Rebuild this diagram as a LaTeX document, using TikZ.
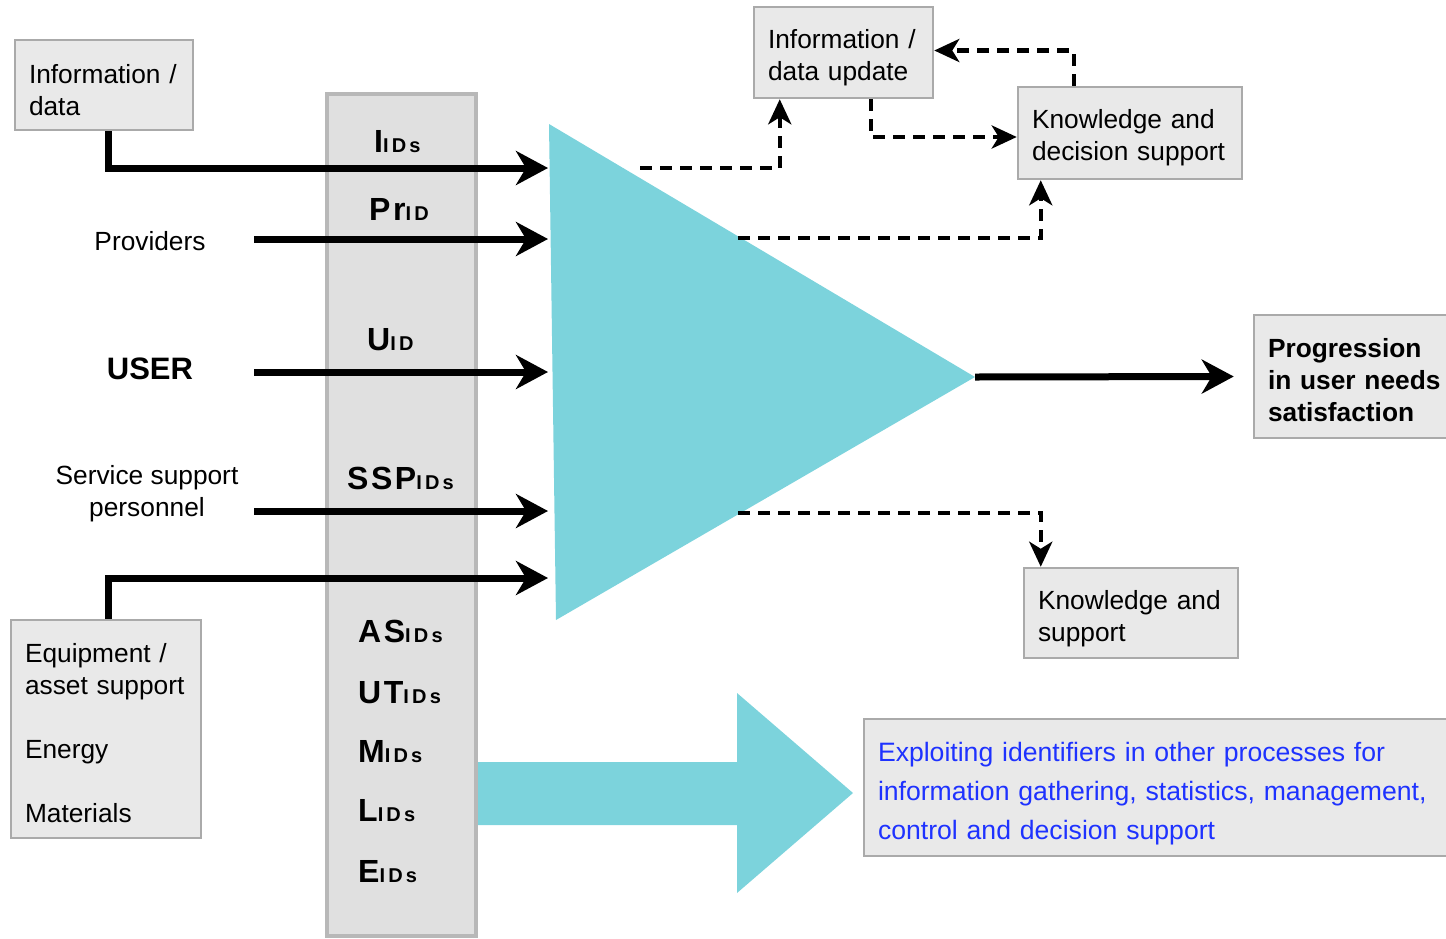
\documentclass[tikz,border=0pt]{standalone}
\usepackage{fontspec}
\setmainfont{Liberation Sans}
\newfontfamily\idfont[LetterSpace=8]{Liberation Sans}
\newfontfamily\subfont[LetterSpace=16]{Liberation Sans}
\usetikzlibrary{arrows.meta,calc}
\definecolor{boxfill}{RGB}{233,233,233}
\definecolor{boxline}{RGB}{170,170,170}
\definecolor{barfill}{RGB}{224,224,224}
\definecolor{barline}{RGB}{184,184,184}
\definecolor{tealc}{RGB}{124,211,220}
\definecolor{bluetxt}{RGB}{30,50,255}
\newcommand\idm[1]{{\idfont\bfseries\fontsize{32}{32}\selectfont #1}}
\newcommand\ids[1]{{\subfont\bfseries\fontsize{20}{20}\selectfont #1}}
\newcommand\dn[1]{\rule{0pt}{#1}}
\begin{document}
\begin{tikzpicture}[x=1pt,y=-1pt,
  box/.style={draw=boxline, fill=boxfill, line width=2.5pt, inner sep=0pt, align=left, font=\fontsize{26.3}{32}\selectfont},
  lbl/.style={inner sep=0pt, font=\fontsize{26.3}{32}\selectfont, align=center},
  idl/.style={inner sep=0pt, anchor=base west},
  sarrow/.style={line width=7pt, -{Stealth[length=32pt,width=34pt,inset=10pt]}},
  darrow/.style={line width=4.5pt, dash pattern=on 12pt off 8pt, -{Stealth[length=25pt,width=23pt,inset=7pt]}}]
\useasboundingbox (0,0) rectangle (1446,938);

% vertical identifier bar
\node[draw=barline, fill=barfill, line width=4pt, minimum width=149pt, minimum height=842pt, inner sep=0pt] (bar) at (401.5,515) {};

% process triangle
\coordinate (t1) at (549,124);
\coordinate (apex) at (975,377);
\coordinate (t3) at (556,620);
\fill[tealc] (t1) -- (apex) -- (t3) -- cycle;

% block arrow
\fill[tealc] (478,762) -- (737,762) -- (737,693) -- (853,793) -- (737,893) -- (737,825) -- (478,825) -- cycle;

% boxes
\node[box, minimum width=178pt, minimum height=90pt, text width=150pt] (info) at (104,85) {\dn{29pt}Information /\\data};
\node[box, minimum width=179pt, minimum height=91pt, text width=151pt] (upd) at (843.5,52.5) {\dn{29pt}Information /\\data update};
\node[box, minimum width=224pt, minimum height=92pt, text width=196pt] (kds) at (1130,133) {\dn{28pt}Knowledge and\\decision support};
\node[box, minimum width=214pt, minimum height=90pt, text width=186pt] (ks) at (1131,613) {\dn{30pt}Knowledge and\\support};
\node[box, minimum width=206pt, minimum height=123pt, text width=178pt, font=\bfseries\fontsize{26.3}{32}\selectfont] (prog) at (1357,376.5) {\dn{27pt}Progression\\in user needs\\satisfaction};
\node[box, minimum width=596pt, minimum height=137pt, text width=568pt, text=bluetxt, font=\fontsize{26.6}{39}\selectfont] (expl) at (1162,787.5) {\dn{32pt}Exploiting identifiers in other processes for\\information gathering, statistics, management,\\control and decision support};
\node[box, minimum width=190pt, minimum height=218pt, text width=162pt] (eq) at (106,729) {\dn{27pt}Equipment /\\asset support\\[32pt]Energy\\[32pt]Materials};

% left labels
\node[lbl] (prov) at (150,241) {Providers};
\node[lbl, font=\bfseries\fontsize{31}{36}\selectfont] (user) at (150,369) {USER};
\node[lbl] (ssp) at (147,494) {Service support\\personnel};

% identifier labels
\node[idl] (lI) at (374,152) {\idm{I}\ids{IDs}};
\node[idl] (lPr) at (369,220) {\idm{Pr}\ids{ID}};
\node[idl] (lU) at (367,350) {\idm{U}\ids{ID}};
\node[idl] (lSSP) at (347,489) {\idm{SSP}\ids{IDs}};
\node[idl] (lAS) at (358,642) {\idm{AS}\ids{IDs}};
\node[idl] (lUT) at (358,703) {\idm{UT}\ids{IDs}};
\node[idl] (lM) at (358,762) {\idm{M}\ids{IDs}};
\node[idl] (lL) at (358,821) {\idm{L}\ids{IDs}};
\node[idl] (lE) at (358,882) {\idm{E}\ids{IDs}};

% arrow end points on the triangle
\coordinate (eI) at (548,168);
\coordinate (ePr) at (548,239);
\coordinate (eU) at (548,372);
\coordinate (eS) at (548,511);
\coordinate (eE) at (548,578);
\coordinate (sPr) at (254,239);
\coordinate (sU) at (254,372);
\coordinate (sS) at (254,511);

% solid arrows
\draw[sarrow] ([xshift=4pt]info.south) |- (eI);
\draw[sarrow] (sPr) -- (ePr);
\draw[sarrow] (sU) -- (eU);
\draw[sarrow] (sS) -- (eS);
\draw[sarrow] ([xshift=2pt]eq.north) |- (eE);
\draw[sarrow] (apex) -- ($(prog.west)+(-19,0)$);

% dashed connectors
\coordinate (d1) at (640,168);
\coordinate (d4) at (738,238);
\coordinate (d5) at (738,513);
\draw[darrow] (d1) -| ($(upd.south west)+(27,0)$);
\draw[darrow] ($(upd.south west)+(118,0)$) |- ($(kds.west)+(0,4)$);
\draw[darrow] ($(kds.north west)+(57,0)$) |- ($(upd.east)+(0,-2)$);
\draw[darrow] (d4) -| ($(kds.south west)+(24,0)$);
\draw[darrow] (d5) -| ($(ks.north west)+(18,0)$);
\end{tikzpicture}
\end{document}
